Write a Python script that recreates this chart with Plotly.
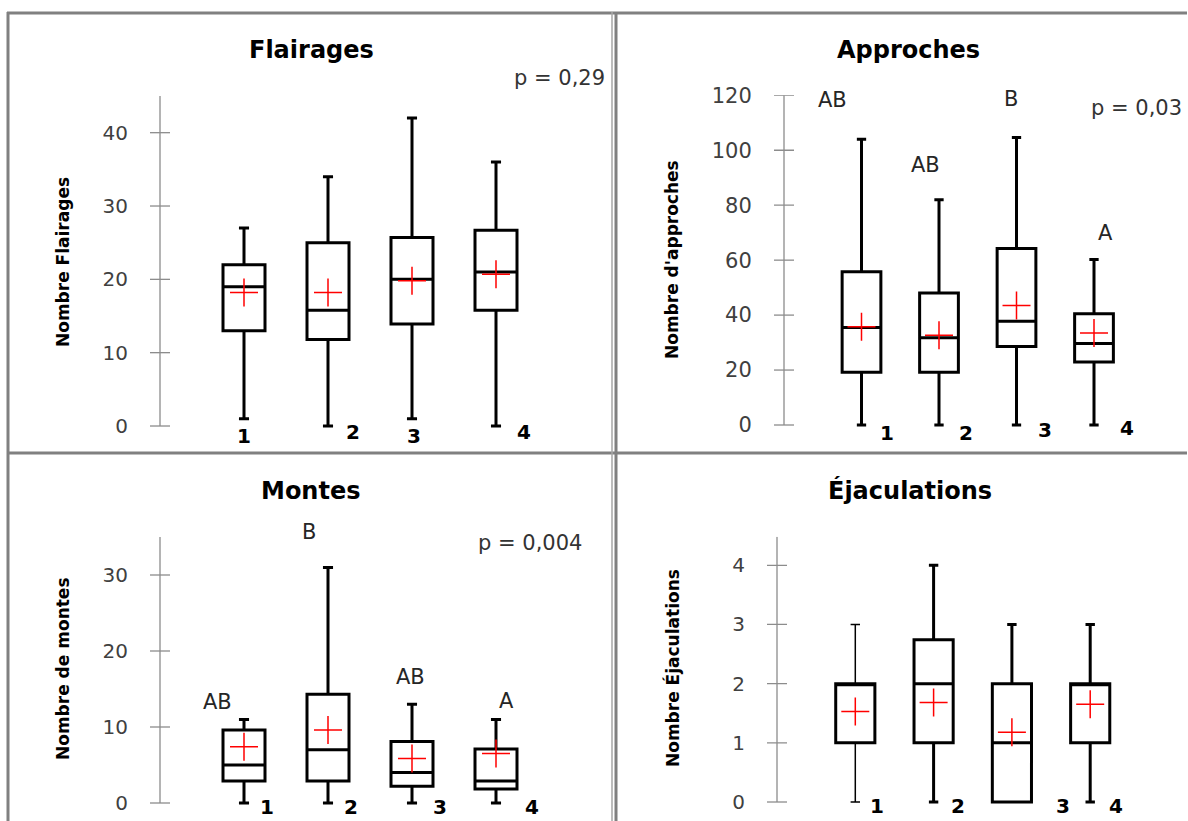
import plotly.graph_objects as go

W, H = 1188, 821

# ---------------- data ----------------
categories = ["1", "2", "3", "4"]
positions = [1, 2, 3, 4]

titles = ["Flairages", "Approches", "Montes", "Éjaculations"]
y_titles = ["Nombre Flairages", "Nombre d'approches", "Nombre de montes", "Nombre Éjaculations"]
p_values = ["p = 0,29", "p = 0,03", "p = 0,004", ""]

flair_low = [1, 0, 1, 0]
flair_q1 = [13, 11.8, 13.9, 15.8]
flair_med = [19, 15.8, 20, 21]
flair_q3 = [22, 25, 25.7, 26.7]
flair_high = [27, 34, 42, 36]
flair_mean = [18.2, 18.2, 19.8, 20.7]
flair_ticks = [0, 10, 20, 30, 40]

appr_low = [0, 0, 0, 0]
appr_q1 = [19.2, 19.2, 28.6, 22.9]
appr_med = [35.5, 31.8, 37.8, 29.7]
appr_q3 = [55.8, 48, 64.2, 40.5]
appr_high = [104, 82, 104.6, 60.2]
appr_mean = [35.8, 32.7, 43.5, 33.5]
appr_letters = ["AB", "AB", "B", "A"]
appr_ticks = [0, 20, 40, 60, 80, 100, 120]

mont_low = [0, 0, 0, 0]
mont_q1 = [2.9, 2.9, 2.2, 1.85]
mont_med = [5, 7, 4, 2.9]
mont_q3 = [9.6, 14.3, 8.1, 7.1]
mont_high = [11, 31, 13, 11]
mont_mean = [7.4, 9.6, 5.85, 6.5]
mont_letters = ["AB", "B", "AB", "A"]
mont_ticks = [0, 10, 20, 30]

ejac_low = [0, 0, 0, 0]
ejac_q1 = [1, 1, 0, 1]
ejac_med = [2, 2, 1, 2]
ejac_q3 = [2, 2.74, 2, 2]
ejac_high = [3, 4, 3, 3]
ejac_mean = [1.53, 1.68, 1.18, 1.65]
ejac_ticks = [0, 1, 2, 3, 4]

series = [
    (flair_low, flair_q1, flair_med, flair_q3, flair_high, flair_mean, flair_ticks, None),
    (appr_low, appr_q1, appr_med, appr_q3, appr_high, appr_mean, appr_ticks, appr_letters),
    (mont_low, mont_q1, mont_med, mont_q3, mont_high, mont_mean, mont_ticks, mont_letters),
    (ejac_low, ejac_q1, ejac_med, ejac_q3, ejac_high, ejac_mean, ejac_ticks, None),
]

# ---------------- layout (pixel geometry) ----------------
geo = [
    dict(axis_px=160, right_px=600, zero_py=426, unit_px=7.333, top=45, step_px=84,
         title_xy=(311, 50), ytitle_xy=(63, 262), p_xy=(607, 78, "right"),
         label_shift=[0, 25, 2, 28], label_py=[436, 432, 436, 432],
         letter_shift=None, letter_py=None, tickfont=20, thin=[]),
    dict(axis_px=784, right_px=1180, zero_py=425, unit_px=2.7475, top=120, step_px=77.5,
         title_xy=(908, 50), ytitle_xy=(672, 260), p_xy=(1089, 108, "left"),
         label_shift=[25, 27, 28, 33], label_py=[433, 433, 430, 428],
         letter_shift=[-29, -14, -6, 11], letter_py=[100, 165, 99, 233], tickfont=21, thin=[]),
    dict(axis_px=160, right_px=600, zero_py=803, unit_px=7.6, top=35, step_px=84,
         title_xy=(311, 491), ytitle_xy=(63, 669), p_xy=(476, 543, "left"),
         label_shift=[23, 23, 28, 36], label_py=[807, 807, 807, 807],
         letter_shift=[-27, -19, -2, 10], letter_py=[702, 532, 677, 701], tickfont=20, thin=[]),
    dict(axis_px=777, right_px=1180, zero_py=802, unit_px=59.18, top=4.48, step_px=78.3,
         title_xy=(910, 490), ytitle_xy=(672, 668), p_xy=None,
         label_shift=[22, 24, 51, 26], label_py=[806, 806, 806, 806],
         letter_shift=None, letter_py=None, tickfont=20, thin=[0]),
]

def PX(x):
    return x / W

def PY(y):
    return 1 - y / H

REG = "DejaVu Sans"
AXIS_GRAY = "#8c8c8c"

fig = go.Figure()
shapes = []
annotations = []
layout_axes = {}

def pick(arr, idx):
    return [arr[k] for k in idx]

for i, (low, q1, med, q3, high, mean, ticks, letters) in enumerate(series):
    g = geo[i]
    xa = "x" if i == 0 else f"x{i+1}"
    ya = "y" if i == 0 else f"y{i+1}"
    xkey = "xaxis" if i == 0 else f"xaxis{i+1}"
    ykey = "yaxis" if i == 0 else f"yaxis{i+1}"

    pad_px = 8
    bottom_py = g["zero_py"] + pad_px
    top_py = g["zero_py"] - g["top"] * g["unit_px"]
    ymin = -pad_px / g["unit_px"]
    xmax = (g["right_px"] - g["axis_px"]) / g["step_px"]

    layout_axes[xkey] = dict(domain=[PX(g["axis_px"]), PX(g["right_px"])], range=[0, xmax],
                             visible=False, anchor=ya, fixedrange=True, automargin=False)
    layout_axes[ykey] = dict(domain=[PY(bottom_py), PY(top_py)], range=[ymin, g["top"]],
                             anchor=xa, showgrid=False, zeroline=False, showline=False,
                             tickvals=ticks, ticktext=[str(t) for t in ticks],
                             ticks="outside", ticklen=27, tickcolor="rgba(0,0,0,0)",
                             tickfont=dict(family=REG, size=g["tickfont"], color="#404040"),
                             fixedrange=True, automargin=False)

    thick_idx = [k for k in range(len(positions)) if k not in g["thin"]]
    thin_idx = list(g["thin"])
    common = dict(width=0.5, whiskerwidth=0.24, fillcolor="white", boxpoints=False,
                  xaxis=xa, yaxis=ya, showlegend=False, hoverinfo="skip")
    fig.add_trace(go.Box(
        x=pick(positions, thick_idx), q1=pick(q1, thick_idx), median=pick(med, thick_idx),
        q3=pick(q3, thick_idx), lowerfence=pick(low, thick_idx), upperfence=pick(high, thick_idx),
        line=dict(color="black", width=3), **common))
    if thin_idx:
        # thin whiskers
        fig.add_trace(go.Box(
            x=pick(positions, thin_idx), q1=pick(q1, thin_idx), median=pick(med, thin_idx),
            q3=pick(q3, thin_idx), lowerfence=pick(low, thin_idx), upperfence=pick(high, thin_idx),
            line=dict(color="black", width=1.5), **common))
        # thick box body on top
        fig.add_trace(go.Box(
            x=pick(positions, thin_idx), q1=pick(q1, thin_idx), median=pick(med, thin_idx),
            q3=pick(q3, thin_idx), lowerfence=pick(q1, thin_idx), upperfence=pick(q3, thin_idx),
            line=dict(color="black", width=3), **common))

    fig.add_trace(go.Scatter(
        x=positions, y=mean, mode="markers", xaxis=xa, yaxis=ya, cliponaxis=False,
        marker=dict(symbol="cross-thin", size=20, color="#ff0000",
                    line=dict(color="#ff0000", width=1.5)),
        showlegend=False, hoverinfo="skip"))

    # y axis line and crossing ticks
    shapes.append(dict(type="line", xref="paper", yref=ya,
                       x0=PX(g["axis_px"]), x1=PX(g["axis_px"]), y0=0, y1=g["top"],
                       line=dict(color=AXIS_GRAY, width=1.3)))
    for t in ticks:
        shapes.append(dict(type="line", xref="paper", yref=ya,
                           x0=PX(g["axis_px"] - 10), x1=PX(g["axis_px"] + 10), y0=t, y1=t,
                           line=dict(color=AXIS_GRAY, width=1.3)))

    # title
    annotations.append(dict(text=titles[i], xref="paper", yref="paper",
                            x=PX(g["title_xy"][0]), y=PY(g["title_xy"][1]),
                            xanchor="center", yanchor="middle", showarrow=False,
                            font=dict(family=REG, size=24, color="black", weight="bold")))
    # y title
    annotations.append(dict(text=y_titles[i], xref="paper", yref="paper",
                            x=PX(g["ytitle_xy"][0]), y=PY(g["ytitle_xy"][1]),
                            xanchor="center", yanchor="middle", showarrow=False, textangle=-90,
                            font=dict(family=REG, size=17, color="black", weight="bold")))
    # p value
    if g["p_xy"] is not None and p_values[i]:
        px_, py_, anc = g["p_xy"]
        annotations.append(dict(text=p_values[i], xref="paper", yref="paper",
                                x=PX(px_), y=PY(py_), xanchor=anc, yanchor="middle",
                                showarrow=False,
                                font=dict(family=REG, size=21, color="#333333")))
    # category labels
    for j, c in enumerate(categories):
        annotations.append(dict(text=c, xref=xa, yref="paper", x=positions[j],
                                xshift=g["label_shift"][j], y=PY(g["label_py"][j]),
                                xanchor="center", yanchor="middle", showarrow=False,
                                font=dict(family=REG, size=20, color="black", weight="bold")))
    # group letters
    if letters is not None:
        for j, L in enumerate(letters):
            annotations.append(dict(text=L, xref=xa, yref="paper", x=positions[j],
                                    xshift=g["letter_shift"][j], y=PY(g["letter_py"][j]),
                                    xanchor="center", yanchor="middle", showarrow=False,
                                    font=dict(family=REG, size=21, color="#262626")))

# panel borders
BORDER = "#808080"
def hline(x0, x1, y, w=3, c=BORDER):
    shapes.append(dict(type="line", xref="paper", yref="paper",
                       x0=PX(x0), x1=PX(x1), y0=PY(y), y1=PY(y), line=dict(color=c, width=w)))

def vline(x, y0, y1, w=3, c=BORDER):
    shapes.append(dict(type="line", xref="paper", yref="paper",
                       x0=PX(x), x1=PX(x), y0=PY(y0), y1=PY(y1), line=dict(color=c, width=w)))

hline(7, 1187, 13)
hline(7, 1187, 453)
vline(8, 12, 821)
vline(612, 12, 821, w=1.5, c="#a6a6a6")
vline(616, 12, 821)

fig.update_layout(
    width=W, height=H, autosize=False,
    margin=dict(l=0, r=0, t=0, b=0, pad=0, autoexpand=False),
    paper_bgcolor="white", plot_bgcolor="rgba(0,0,0,0)",
    showlegend=False, shapes=shapes, annotations=annotations,
    **layout_axes,
)

fig.write_html("out.html", config={"displayModeBar": False},
               post_script="document.body.style.margin='0';document.body.style.overflow='hidden';")
